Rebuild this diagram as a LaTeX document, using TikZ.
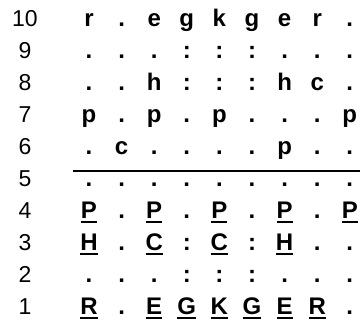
\documentclass[tikz,border=0pt]{standalone}
\usepackage{fontspec}
\setmainfont{Liberation Sans}
\newcommand\myul[1]{\setbox0\hbox{#1}\rlap{\raisebox{-5pt}{\rule{\wd0}{2.2pt}}}\box0}
\begin{document}
\begin{tikzpicture}[x=1pt,y=1pt,
  cell/.style={anchor=base, inner sep=0pt, font=\fontsize{24}{28}\selectfont\bfseries},
  num/.style={anchor=base, inner sep=0pt, font=\fontsize{23}{28}\selectfont},
  divider/.style={line width=1.3pt}]
\useasboundingbox (0,0) rectangle (360,321);
\foreach \r/\row in {
  10/{r,.,e,g,k,g,e,r,.},
  9/{.,.,.,:,:,:,.,.,.},
  8/{.,.,h,:,:,:,h,c,.},
  7/{p,.,p,.,p,.,.,.,p},
  6/{.,c,.,.,.,.,p,.,.},
  5/{.,.,.,.,.,.,.,.,.},
  4/{\myul{P},.,\myul{P},.,\myul{P},.,\myul{P},.,\myul{P}},
  3/{\myul{H},.,\myul{C},:,\myul{C},:,\myul{H},.,.},
  2/{.,.,.,:,:,:,.,.,.},
  1/{\myul{R},.,\myul{E},\myul{G},\myul{K},\myul{G},\myul{E},\myul{R},.}} {
  \node[num] (num\r) at (25, {294.5-32*(10-\r)}) {\r};
  \foreach \t [count=\c] in \row {
    \node[cell] (n\r-\c) at ({89+32.6*(\c-1)}, {294.5-32*(10-\r)}) {\t};
  }
}
\coordinate (L1) at (73,150);
\coordinate (L2) at (360,150);
\draw[divider] (L1) -- (L2);
\end{tikzpicture}
\end{document}
